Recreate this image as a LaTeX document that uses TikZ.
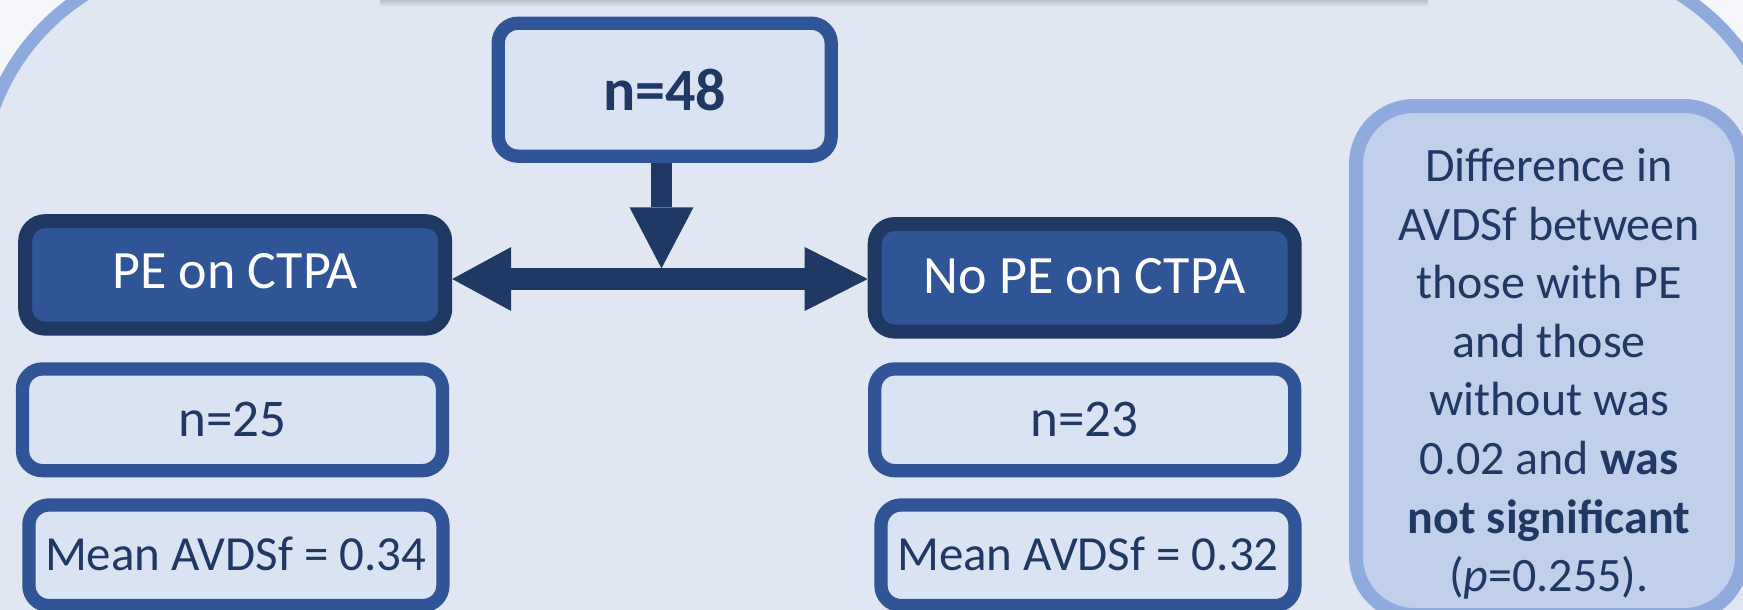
\documentclass[tikz,border=0pt]{standalone}
\usepackage{fontspec}
\setmainfont{Carlito}
\usetikzlibrary{arrows.meta}
\definecolor{bgin}{HTML}{E0E7F3}
\definecolor{bgout}{HTML}{F5F7FB}
\definecolor{navy}{HTML}{1F3864}
\definecolor{midblue}{HTML}{2F5597}
\definecolor{lightfill}{HTML}{DAE3F3}
\definecolor{paleblue}{HTML}{8FAADC}
\definecolor{notefill}{HTML}{C0D0EA}
\definecolor{shadowgrey}{HTML}{B9C0CE}
\begin{document}
\begin{tikzpicture}[x=1pt,y=-1pt,
  darkbox/.style={draw=navy, fill=midblue, line width=14pt, rounded corners=20pt,
    text=white, inner sep=0pt, minimum width=420pt, minimum height=107.5pt,
    font=\fontsize{54}{65}\selectfont, text height=28pt, text depth=0pt},
  lightbox/.style={draw=midblue, fill=lightfill, line width=13.3pt, rounded corners=20pt,
    text=navy, inner sep=0pt},
  countbox/.style={lightbox, minimum width=420pt, minimum height=101.7pt,
    font=\fontsize{53}{64}\selectfont, text height=33.5pt, text depth=0pt},
  meanbox/.style={lightbox, minimum width=414pt, minimum height=100.6pt,
    font=\fontsize{49}{59}\selectfont, text height=31pt, text depth=0pt},
  notebox/.style={draw=paleblue, fill=notefill, line width=14pt, rounded corners=58pt,
    text=navy, inner sep=0pt, align=center, minimum width=386pt, minimum height=509pt,
    font=\fontsize{48}{58.6}\selectfont},
  bigarrow/.style={draw=navy, line width=21.7pt}
]
\useasboundingbox (0,0) rectangle (1743,610);
\clip (0,0) rectangle (1743,610);
% outer background
\fill[bgout] (0,0) rectangle (1743,610);
% big rounded panel
\draw[paleblue, line width=13pt, fill=bgin, rounded corners=225pt] (-20,-40) rectangle (1785,900);
% shadow of the title box above
\shade[top color=shadowgrey, bottom color=bgin] (380,0) rectangle (1428,7);

% nodes
\node[lightbox, minimum width=333pt, minimum height=133pt,
  font=\fontsize{60}{72}\selectfont\bfseries, text height=42pt, text depth=0pt]
  (n48) at (664.7,89.7) {n=48};
\node[darkbox] (pe) at (235.2,274.9) {PE on CTPA};
\node[darkbox, text height=31pt] (nope) at (1084.7,277.8) {No PE on CTPA};
\node[countbox] (n25) at (232.5,419.8) {n=25};
\node[countbox] (n23) at (1084.7,419.8) {n=23};
\node[meanbox] (m34) at (235.9,555.3) {Mean AVDSf = 0.34};
\node[meanbox] (m32) at (1088,555.3) {Mean AVDSf = 0.32};
\node[notebox] (note) at (1549,360.5)
  {\rule{0pt}{60pt}Difference in\\AVDSf between\\those with PE\\and those\\without was\\0.02 and \textbf{was}\\\textbf{not significant}\\(\textit{p}=0.255).};

% connectors
\coordinate (j) at (661.5,268.3);
\coordinate (h) at (660,279);
\draw[bigarrow, -{Triangle[length=61pt,width=64pt,line width=0pt]}] (n48.south -| j) -- (j);
\draw[bigarrow, {Triangle[length=59pt,width=64pt,line width=0pt]}-{Triangle[length=63pt,width=64pt,line width=0pt]}]
  (pe.east |- h) -- (nope.west |- h);
\end{tikzpicture}
\end{document}
